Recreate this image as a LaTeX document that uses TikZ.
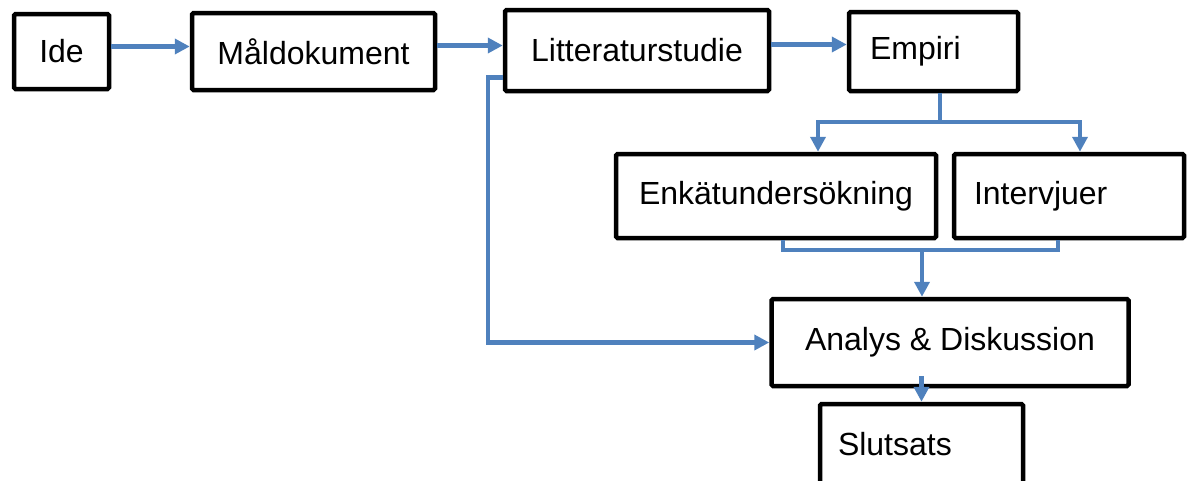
\documentclass[tikz,border=0pt]{standalone}
\usepackage{fontspec}
\setmainfont{Liberation Sans}
\usetikzlibrary{arrows.meta}
\definecolor{flowblue}{HTML}{4F81BD}

\begin{document}
\begin{tikzpicture}[x=1pt, y=-1pt,
    font=\fontsize{32}{38}\selectfont,
    box/.style={draw, line width=4.5pt, rounded corners=1.5pt, inner sep=0pt, align=center},
    leftbox/.style={box, align=left},
    link/.style={flowblue, line width=4.5pt},
    flow/.style={link, -{Triangle[length=15pt, width=15pt]}}]
    \useasboundingbox (0,0) rectangle (1189,480);
    \node[box, minimum width=95pt, minimum height=75pt] (ide) at (61.5,51.5) {Ide};
    \node[box, minimum width=243pt, minimum height=77pt] (mal) at (313.5,51.5) {Måldokument};
    \node[box, minimum width=264pt, minimum height=81pt] (litt) at (637,50.5) {Litteraturstudie};
    \node[leftbox, text width=127pt, inner xsep=21pt, minimum height=79pt] (empiri) at (933.5,51.5) {Empiri};
    \node[box, minimum width=320pt, minimum height=84pt] (enkat) at (776,196) {Enkätundersökning};
    \node[leftbox, text width=190pt, inner xsep=20pt, minimum height=84pt] (intervju) at (1069,196) {Intervjuer};
    \node[box, minimum width=357pt, minimum height=87pt] (analys) at (950,342.5) {Analys \& Diskussion};
    \node[leftbox, text width=167pt, inner xsep=18pt, minimum height=80pt] (slut) at (921.5,444) {Slutsats};
    \coordinate (split) at (940,122);
    \coordinate (merge) at (922,250);
    \draw[flow] ([yshift=5pt]ide.east) -- ([yshift=5pt]mal.west);
    \draw[flow] ([yshift=6pt]mal.east) -- ([yshift=6pt]mal.east -| litt.west);
    \draw[flow] ([yshift=6pt]litt.east) -- ([yshift=6pt]litt.east -| empiri.west);
    \draw[link] (empiri.south -| split) -- (split);
    \draw[flow] (split) -| ([xshift=42pt]enkat.north);
    \draw[flow] (split) -| ([xshift=11pt]intervju.north);
    \draw[link] ([xshift=7pt]enkat.south) |- (merge) -| ([xshift=-11pt]intervju.south);
    \draw[flow] (merge) -- (merge |- analys.north);
    \draw[flow] ([yshift=-27pt]litt.west) -- ++(-15,0) |- (analys.west);
    \draw[flow] (slut.north |- analys.south) ++(0,-12) -- (slut.north);
\end{tikzpicture}
\end{document}
